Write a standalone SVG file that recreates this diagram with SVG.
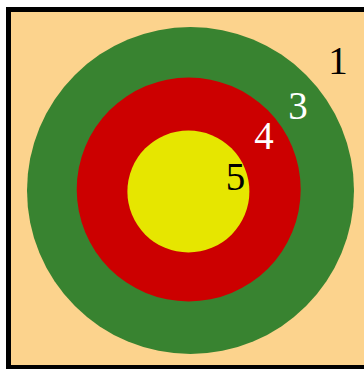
<svg xmlns="http://www.w3.org/2000/svg" width="364" height="369" viewBox="0 0 364 369">
<style>
text{font-family:"Liberation Serif","Times New Roman",serif;font-size:39px;text-anchor:middle}
.w{fill:#ffffff}.b{fill:#000000}
</style>
<rect x="0" y="0" width="364" height="369" fill="#ffffff"/>
<g id="board">
<rect x="8.5" y="9.5" width="362" height="358" fill="#FCD38D" stroke="#000000" stroke-width="5"/>
</g>
<g id="ring3"><circle cx="190.5" cy="190.5" r="163.5" fill="#388330"/></g>
<g id="ring4"><circle cx="188.7" cy="189.5" r="112" fill="#CC0000"/></g>
<g id="ring5"><circle cx="188.4" cy="191.5" r="61" fill="#E6E600"/></g>
<g id="labels">
<text class="b" x="338" y="74">1</text>
<text class="w" x="298" y="119">3</text>
<text class="w" x="264" y="149">4</text>
<text class="b" x="235.5" y="190">5</text>
</g>
</svg>
